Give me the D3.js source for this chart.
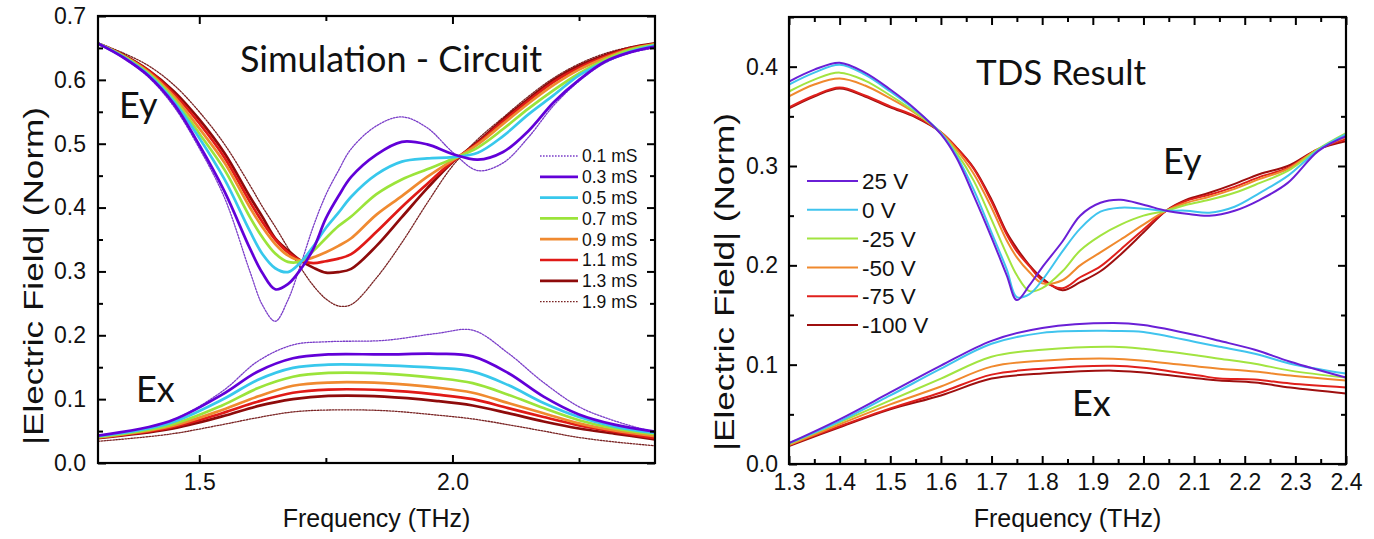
<!DOCTYPE html>
<html><head><meta charset="utf-8">
<script src="https://cdn.jsdelivr.net/npm/d3@7"></script>
<style>
html,body{margin:0;padding:0;background:#fff;}
svg{display:block;background:#fff;}
text{font-family:"Liberation Sans", Arial, sans-serif;fill:#111;}
</style></head><body>
<svg id="chart" width="1374" height="539"></svg>
<script>
// ---------------- LEFT PANEL DATA (Simulation - Circuit) ----------------
const leftLabels = ["0.1 mS","0.3 mS","0.5 mS","0.7 mS","0.9 mS","1.1 mS","1.3 mS","1.9 mS"];
const leftColors = ["#7b3fc9","#6200d8","#38c8ec","#9be43a","#f08a30","#e01a17","#8e0b0b","#7a2424"];
const leftDotted = [true,false,false,false,false,false,false,true];

const leftEyFreq = [1.3,1.35,1.4,1.45,1.5,1.55,1.6,1.625,1.65,1.675,1.7,1.725,1.75,1.775,1.8,1.85,1.9,1.95,2.0,2.05,2.1,2.15,2.2,2.25,2.3,2.35,2.4];
const eyL_01 = [0.657,0.634,0.604,0.558,0.493,0.415,0.300,0.247,0.222,0.255,0.310,0.370,0.420,0.458,0.492,0.528,0.542,0.525,0.487,0.458,0.470,0.510,0.560,0.598,0.626,0.642,0.650];
const eyL_03 = [0.657,0.635,0.606,0.562,0.498,0.425,0.336,0.297,0.272,0.280,0.303,0.335,0.383,0.418,0.448,0.483,0.503,0.499,0.484,0.475,0.487,0.520,0.565,0.600,0.628,0.643,0.652];
const eyL_05 = [0.657,0.636,0.608,0.566,0.509,0.444,0.363,0.327,0.305,0.299,0.314,0.339,0.368,0.392,0.417,0.452,0.472,0.477,0.479,0.486,0.512,0.546,0.576,0.607,0.628,0.644,0.654];
const eyL_07 = [0.657,0.637,0.610,0.570,0.516,0.459,0.385,0.353,0.328,0.315,0.316,0.332,0.352,0.371,0.386,0.421,0.444,0.460,0.476,0.494,0.523,0.555,0.584,0.610,0.631,0.647,0.655];
const eyL_09 = [0.657,0.638,0.612,0.574,0.524,0.470,0.400,0.369,0.343,0.325,0.317,0.322,0.330,0.340,0.352,0.389,0.418,0.448,0.474,0.499,0.531,0.563,0.592,0.616,0.634,0.648,0.656];
const eyL_11 = [0.657,0.638,0.614,0.578,0.532,0.478,0.409,0.377,0.350,0.330,0.317,0.313,0.316,0.320,0.327,0.362,0.401,0.437,0.472,0.501,0.535,0.567,0.597,0.619,0.636,0.649,0.656];
const eyL_13 = [0.657,0.639,0.615,0.582,0.538,0.485,0.417,0.385,0.352,0.333,0.317,0.306,0.298,0.299,0.304,0.340,0.385,0.430,0.471,0.503,0.538,0.570,0.600,0.622,0.638,0.650,0.657];
const eyL_19 = [0.658,0.642,0.622,0.592,0.550,0.499,0.435,0.401,0.370,0.337,0.306,0.278,0.257,0.246,0.248,0.290,0.345,0.407,0.465,0.507,0.541,0.574,0.603,0.625,0.641,0.651,0.657];

const leftExFreq = [1.3,1.44,1.545,1.615,1.685,1.755,1.865,1.97,2.04,2.11,2.18,2.25,2.32,2.4];
const exL_01 = [0.041,0.065,0.112,0.159,0.185,0.190,0.192,0.203,0.208,0.172,0.126,0.088,0.066,0.048];
const exL_03 = [0.043,0.065,0.107,0.143,0.164,0.170,0.170,0.171,0.167,0.141,0.104,0.076,0.060,0.049];
const exL_05 = [0.042,0.062,0.099,0.130,0.149,0.154,0.153,0.149,0.143,0.122,0.094,0.072,0.057,0.047];
const exL_07 = [0.041,0.059,0.090,0.117,0.135,0.141,0.140,0.133,0.125,0.107,0.086,0.067,0.054,0.045];
const exL_09 = [0.040,0.057,0.083,0.104,0.121,0.126,0.125,0.118,0.110,0.094,0.078,0.062,0.051,0.042];
const exL_11 = [0.040,0.055,0.078,0.096,0.110,0.115,0.114,0.107,0.100,0.086,0.072,0.059,0.049,0.039];
const exL_13 = [0.039,0.053,0.073,0.089,0.100,0.105,0.104,0.097,0.090,0.078,0.065,0.054,0.046,0.037];
const exL_19 = [0.034,0.045,0.060,0.071,0.080,0.083,0.082,0.075,0.069,0.060,0.050,0.040,0.033,0.027];

const leftXTicks = [1.5, 2.0];
const leftXMinor = [1.75, 2.25];
const leftYTicks = [0.0,0.1,0.2,0.3,0.4,0.5,0.6,0.7];
const leftYMinor = [0.05,0.15,0.25,0.35,0.45,0.55,0.65];

// ---------------- RIGHT PANEL DATA (TDS Result) ----------------
const rightLabels = ["25 V","0 V","-25 V","-50 V","-75 V","-100 V"];
const rightColors = ["#6a1fd6","#40c4ee","#a2e440","#f0892e","#e0201c","#9e0f0f"];

const rightEyFreq = [1.3,1.35,1.4,1.45,1.5,1.55,1.6,1.63,1.665,1.7,1.73,1.75,1.775,1.8,1.84,1.875,1.915,1.955,2.0,2.045,2.085,2.13,2.18,2.23,2.285,2.345,2.4];
const eyR_p25  = [0.385,0.397,0.404,0.394,0.377,0.357,0.332,0.309,0.270,0.228,0.190,0.165,0.180,0.198,0.224,0.250,0.263,0.266,0.261,0.255,0.252,0.250,0.255,0.266,0.283,0.315,0.330];
const eyR_0    = [0.382,0.394,0.402,0.392,0.375,0.356,0.333,0.311,0.276,0.233,0.196,0.168,0.171,0.185,0.214,0.237,0.254,0.258,0.257,0.255,0.255,0.253,0.259,0.273,0.290,0.316,0.332];
const eyR_m25  = [0.375,0.387,0.394,0.386,0.371,0.354,0.333,0.314,0.285,0.246,0.211,0.190,0.174,0.177,0.194,0.215,0.230,0.241,0.250,0.255,0.261,0.266,0.273,0.283,0.295,0.317,0.333];
const eyR_m50  = [0.370,0.382,0.388,0.381,0.368,0.353,0.334,0.317,0.292,0.258,0.225,0.208,0.193,0.182,0.185,0.200,0.213,0.226,0.241,0.255,0.263,0.269,0.277,0.287,0.297,0.317,0.329];
const eyR_m75  = [0.359,0.371,0.379,0.371,0.360,0.350,0.334,0.319,0.297,0.264,0.231,0.214,0.199,0.185,0.177,0.188,0.199,0.216,0.236,0.255,0.265,0.271,0.279,0.289,0.298,0.317,0.327];
const eyR_m100 = [0.358,0.370,0.378,0.370,0.359,0.349,0.334,0.319,0.298,0.266,0.233,0.217,0.200,0.187,0.175,0.183,0.194,0.211,0.233,0.255,0.266,0.273,0.282,0.292,0.300,0.317,0.325];

const rightExFreq = [1.3,1.4,1.5,1.6,1.7,1.8,1.94,2.0,2.11,2.15,2.22,2.29,2.4];
const exR_p25  = [0.021,0.045,0.072,0.099,0.124,0.137,0.142,0.140,0.129,0.124,0.115,0.103,0.087];
const exR_0    = [0.021,0.043,0.069,0.096,0.121,0.132,0.134,0.133,0.122,0.118,0.111,0.101,0.091];
const exR_m25  = [0.020,0.042,0.064,0.086,0.108,0.115,0.118,0.116,0.109,0.106,0.101,0.094,0.087];
const exR_m50  = [0.019,0.040,0.060,0.078,0.098,0.104,0.106,0.104,0.098,0.096,0.093,0.089,0.084];
const exR_m75  = [0.019,0.038,0.056,0.072,0.090,0.096,0.099,0.097,0.089,0.086,0.085,0.081,0.077];
const exR_m100 = [0.018,0.037,0.055,0.069,0.086,0.091,0.094,0.092,0.086,0.084,0.082,0.077,0.071];

const rightXTicks = [1.3,1.4,1.5,1.6,1.7,1.8,1.9,2.0,2.1,2.2,2.3,2.4];
const rightXMinor = [1.35,1.45,1.55,1.65,1.75,1.85,1.95,2.05,2.15,2.25,2.35];
const rightYTicks = [0.0,0.1,0.2,0.3,0.4];
const rightYMinor = [0.05,0.15,0.25,0.35,0.45];

// ---------------- DRAWING ----------------
const svg = d3.select("#chart");
svg.append("rect").attr("width",1374).attr("height",539).attr("fill","#fff");

function drawPanel(o){
  const x = d3.scaleLinear().domain(o.xDomain).range([o.left, o.right]);
  const y = d3.scaleLinear().domain(o.yDomain).range([o.bottom, o.top]);
  const g = svg.append("g");
  const clipId = "clip" + o.id;
  svg.append("clipPath").attr("id", clipId).append("rect")
    .attr("x", o.left).attr("y", o.top).attr("width", o.right-o.left).attr("height", o.bottom-o.top);

  const line = d3.line().x(d=>x(d[0])).y(d=>y(d[1])).curve(d3.curveCatmullRom.alpha(0.5));
  const lg = g.append("g").attr("clip-path", `url(#${clipId})`);
  o.series.forEach(s=>{
    const pts = s.freq.map((f,i)=>[f, s.values[i]]);
    lg.append("path").attr("d", line(pts)).attr("fill","none")
      .attr("stroke", s.color).attr("stroke-width", s.dotted ? 1.3 : o.lw)
      .attr("stroke-dasharray", s.dotted ? "1.6,1.4" : null)
      .attr("stroke-linejoin","round").attr("stroke-linecap","round");
  });

  const fmt = d3.format(".1f");
  const ax = (gen, tr) => g.append("g").attr("transform", tr).call(gen)
      .call(a=>a.select(".domain").remove())
      .call(a=>a.selectAll("line").attr("stroke","#000").attr("stroke-width",2))
      .call(a=>a.selectAll("text").attr("fill","#111").style("font-size", o.tickFont+"px").style("font-family","'Liberation Sans', Arial, sans-serif"));

  ax(d3.axisBottom(x).tickValues(o.xTicks).tickFormat(fmt).tickSizeInner(-8).tickSizeOuter(0).tickPadding(o.xPad), `translate(0,${o.bottom})`);
  ax(d3.axisBottom(x).tickValues(o.xMinor).tickFormat("").tickSizeInner(-5).tickSizeOuter(0), `translate(0,${o.bottom})`);
  ax(d3.axisTop(x).tickValues(o.xTicks).tickFormat("").tickSizeInner(-8).tickSizeOuter(0), `translate(0,${o.top})`);
  ax(d3.axisTop(x).tickValues(o.xMinor).tickFormat("").tickSizeInner(-5).tickSizeOuter(0), `translate(0,${o.top})`);
  ax(d3.axisLeft(y).tickValues(o.yTicks).tickFormat(fmt).tickSizeInner(-8).tickSizeOuter(0).tickPadding(o.yPad), `translate(${o.left},0)`);
  ax(d3.axisLeft(y).tickValues(o.yMinor).tickFormat("").tickSizeInner(-5).tickSizeOuter(0), `translate(${o.left},0)`);
  ax(d3.axisRight(y).tickValues(o.yTicks).tickFormat("").tickSizeInner(-8).tickSizeOuter(0), `translate(${o.right},0)`);
  ax(d3.axisRight(y).tickValues(o.yMinor).tickFormat("").tickSizeInner(-5).tickSizeOuter(0), `translate(${o.right},0)`);

  g.append("rect").attr("x",o.left).attr("y",o.top).attr("width",o.right-o.left).attr("height",o.bottom-o.top)
    .attr("fill","none").attr("stroke","#000").attr("stroke-width",2.2);

  g.append("text").attr("x",(o.left+o.right)/2).attr("y",o.xTitleY).attr("text-anchor","middle")
    .style("font-size","25px").text("Frequency (THz)");
  g.append("text").attr("transform",`translate(${o.yTitleX},${o.yTitleCY}) rotate(-90)`).attr("text-anchor","middle")
    .style("font-size","28px").attr("textLength",o.yTitleLen).attr("lengthAdjust","spacingAndGlyphs")
    .text("|Electric Field| (Norm)");

  o.notes.forEach(n=>{
    g.append("text").attr("x",n.x).attr("y",n.y).style("font-family","Lato, 'Open Sans', sans-serif")
      .style("font-size",n.size+"px").text(n.t);
  });

  const L = o.legend;
  L.items.forEach((it,i)=>{
    const cy = L.y0 + i*L.dy;
    g.append("line").attr("x1",L.x1).attr("x2",L.x2).attr("y1",cy).attr("y2",cy)
      .attr("stroke",it.color).attr("stroke-width", it.dotted ? 1.3 : L.lw)
      .attr("stroke-dasharray", it.dotted ? "1.6,1.4" : null);
    g.append("text").attr("x",L.tx).attr("y",cy).attr("dy","0.36em")
      .style("font-size",L.font+"px").text(it.label);
  });
}

const leftEySets = [eyL_01,eyL_03,eyL_05,eyL_07,eyL_09,eyL_11,eyL_13,eyL_19];
const leftExSets = [exL_01,exL_03,exL_05,exL_07,exL_09,exL_11,exL_13,exL_19];
const leftSeries = [];
[0,7,6,5,4,3,2,1].forEach(i=>{
  leftSeries.push({freq:leftEyFreq, values:leftEySets[i], color:leftColors[i], dotted:leftDotted[i]});
  leftSeries.push({freq:leftExFreq, values:leftExSets[i], color:leftColors[i], dotted:leftDotted[i]});
});

drawPanel({
  id:"L", xDomain:[1.3,2.4], yDomain:[0,0.7], left:98, right:655, top:16, bottom:463,
  xTicks:leftXTicks, xMinor:leftXMinor, yTicks:leftYTicks, yMinor:leftYMinor,
  tickFont:23, xPad:11, yPad:12, lw:2.7,
  xTitleY:527, yTitleX:43, yTitleCY:276, yTitleLen:338,
  series:leftSeries,
  notes:[{t:"Simulation - Circuit",x:240,y:72,size:36},{t:"Ey",x:119,y:118,size:36},{t:"Ex",x:136,y:402,size:36}],
  legend:{x1:540,x2:578,tx:582,y0:156,dy:20.8,font:17.5,lw:2.7,
    items:leftLabels.map((l,i)=>({label:l,color:leftColors[i],dotted:leftDotted[i]}))}
});

const rightEySets = [eyR_p25,eyR_0,eyR_m25,eyR_m50,eyR_m75,eyR_m100];
const rightExSets = [exR_p25,exR_0,exR_m25,exR_m50,exR_m75,exR_m100];
const rightSeries = [];
[5,4,3,2,1,0].forEach(i=>{
  rightSeries.push({freq:rightEyFreq, values:rightEySets[i], color:rightColors[i], dotted:false});
  rightSeries.push({freq:rightExFreq, values:rightExSets[i], color:rightColors[i], dotted:false});
});

drawPanel({
  id:"R", xDomain:[1.3,2.4], yDomain:[0,0.45], left:789, right:1346, top:17, bottom:464,
  xTicks:rightXTicks, xMinor:rightXMinor, yTicks:rightYTicks, yMinor:rightYMinor,
  tickFont:23, xPad:10, yPad:11, lw:2,
  xTitleY:527, yTitleX:734, yTitleCY:282, yTitleLen:338,
  series:rightSeries,
  notes:[{t:"TDS Result",x:976,y:85,size:35},{t:"Ey",x:1163,y:174,size:36},{t:"Ex",x:1072,y:416,size:36}],
  legend:{x1:807,x2:858,tx:862,y0:181,dy:28.8,font:22.5,lw:2,
    items:rightLabels.map((l,i)=>({label:l,color:rightColors[i],dotted:false}))}
});
</script>
</body></html>
